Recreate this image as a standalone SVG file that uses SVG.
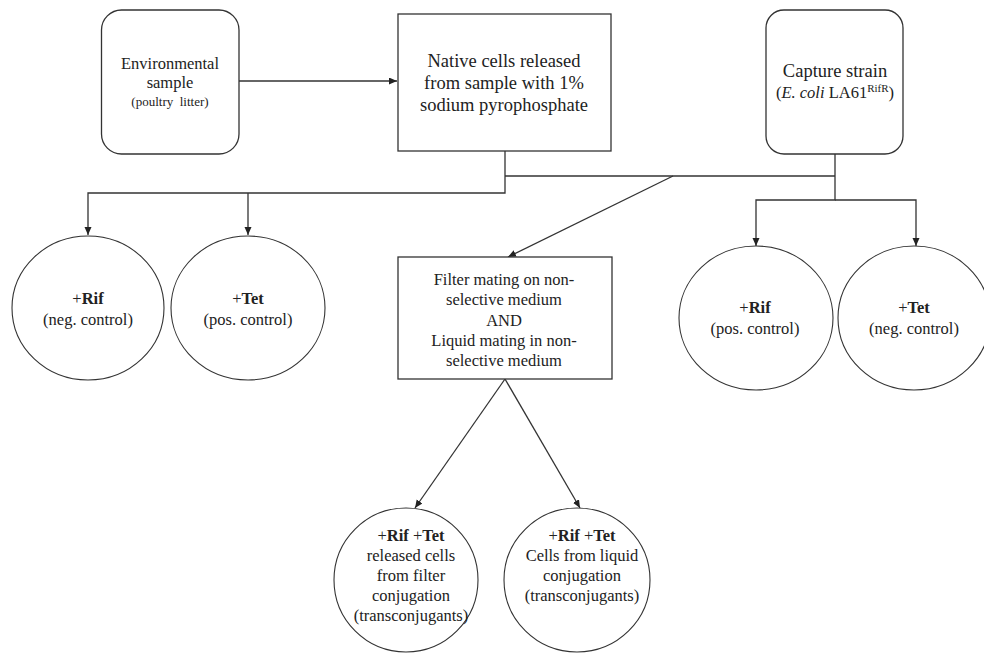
<svg xmlns="http://www.w3.org/2000/svg" width="984" height="654" viewBox="0 0 984 654">
<style>
  .box { fill: #ffffff; stroke: #333333; stroke-width: 1.3; }
  .circ { fill: #ffffff; stroke: #333333; stroke-width: 1.1; }
  .conn { fill: none; stroke: #333333; stroke-width: 1.3; }
  text { font-family: "Liberation Serif", "Times New Roman", serif; fill: #222222; text-anchor: middle; }
  .t16 { font-size: 16.5px; }
  .t18 { font-size: 18.5px; }
  .t13 { font-size: 13px; }
  .b { font-weight: bold; }
</style>
<defs>
  <marker id="arr" markerUnits="userSpaceOnUse" markerWidth="9" markerHeight="8" refX="8" refY="3.5" orient="auto">
    <path d="M0,0 L8,3.5 L0,7 Z" fill="#222222"/>
  </marker>
</defs>
<rect width="984" height="654" fill="#ffffff"/>

<g id="connectors">
  <path class="conn" d="M239,81 H397" marker-end="url(#arr)"/>
  <path class="conn" d="M505,151 V193 H88 V235" marker-end="url(#arr)"/>
  <path class="conn" d="M248,193 V235" marker-end="url(#arr)"/>
  <path class="conn" d="M505,176 H835"/>
  <path class="conn" d="M835,154 V200 H756 V246" marker-end="url(#arr)"/>
  <path class="conn" d="M835,200 H916 V246" marker-end="url(#arr)"/>
  <path class="conn" d="M673,176 L508,257" marker-end="url(#arr)"/>
  <path class="conn" d="M505,379 L415,508" marker-end="url(#arr)"/>
  <path class="conn" d="M505,379 L580,508" marker-end="url(#arr)"/>
</g>

<g id="env">
  <rect class="box" x="101.5" y="10" width="137.5" height="144" rx="20" ry="20"/>
  <text class="t16" x="170" y="69">Environmental</text>
  <text class="t16" x="170" y="88">sample</text>
  <text class="t13" x="170" y="106" xml:space="preserve">(poultry  litter)</text>
</g>

<g id="native">
  <rect class="box" x="398" y="14" width="213" height="137"/>
  <text class="t18" x="504" y="67">Native cells released</text>
  <text class="t18" x="504" y="89">from sample with 1%</text>
  <text class="t18" x="504" y="111">sodium pyrophosphate</text>
</g>

<g id="capture">
  <rect class="box" x="766" y="10" width="137" height="144" rx="18" ry="18"/>
  <text class="t18" x="835" y="77">Capture strain</text>
  <text class="t16" x="835" y="98">(<tspan font-style="italic">E. coli</tspan> LA61<tspan font-size="11" dy="-6">RifR</tspan><tspan dy="6">)</tspan></text>
</g>

<g id="rif-left">
  <ellipse class="circ" cx="88" cy="308" rx="76" ry="72"/>
  <text class="t16" x="88" y="304">+<tspan class="b">Rif</tspan></text>
  <text class="t16" x="88" y="325">(neg. control)</text>
</g>

<g id="tet-left">
  <ellipse class="circ" cx="248" cy="308" rx="77" ry="72"/>
  <text class="t16" x="248" y="304">+<tspan class="b">Tet</tspan></text>
  <text class="t16" x="248" y="325">(pos. control)</text>
</g>

<g id="filter">
  <rect class="box" x="398" y="257" width="214" height="122"/>
  <text class="t16" x="504" y="285">Filter mating on non-</text>
  <text class="t16" x="504" y="305">selective medium</text>
  <text class="t16" x="504" y="326">AND</text>
  <text class="t16" x="504" y="346">Liquid mating in non-</text>
  <text class="t16" x="504" y="366">selective medium</text>
</g>

<g id="rif-right">
  <ellipse class="circ" cx="756" cy="318" rx="77" ry="72"/>
  <text class="t16" x="755" y="313">+<tspan class="b">Rif</tspan></text>
  <text class="t16" x="755" y="334">(pos. control)</text>
</g>

<g id="tet-right">
  <ellipse class="circ" cx="914" cy="318" rx="76" ry="72"/>
  <text class="t16" x="914" y="313">+<tspan class="b">Tet</tspan></text>
  <text class="t16" x="914" y="334">(neg. control)</text>
</g>

<g id="filter-result">
  <ellipse class="circ" cx="406" cy="580" rx="72" ry="72"/>
  <text class="t16" x="411" y="541">+<tspan class="b">Rif</tspan> +<tspan class="b">Tet</tspan></text>
  <text class="t16" x="411" y="561">released cells</text>
  <text class="t16" x="411" y="581">from filter</text>
  <text class="t16" x="411" y="601">conjugation</text>
  <text class="t16" x="411" y="621">(transconjugants)</text>
</g>

<g id="liquid-result">
  <ellipse class="circ" cx="577" cy="580" rx="73" ry="72"/>
  <text class="t16" x="582" y="541">+<tspan class="b">Rif</tspan> +<tspan class="b">Tet</tspan></text>
  <text class="t16" x="582" y="561">Cells from liquid</text>
  <text class="t16" x="582" y="581">conjugation</text>
  <text class="t16" x="582" y="601">(transconjugants)</text>
</g>
</svg>
